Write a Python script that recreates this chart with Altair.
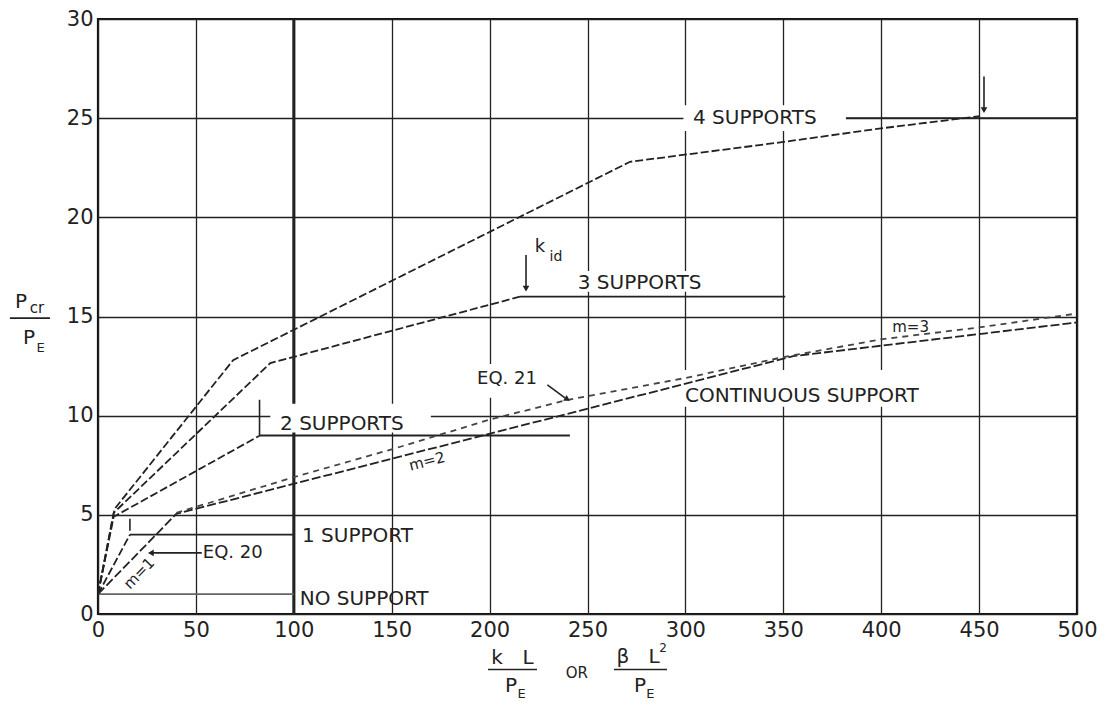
import altair as alt
import pandas as pd

# ---------------- data ----------------
x_ticks = [0, 50, 100, 150, 200, 250, 300, 350, 400, 450, 500]
y_ticks = [0, 5, 10, 15, 20, 25, 30]

no_support_x = [0, 100]
no_support_y = [1, 1]

sup1_x = [0, 16.3]
sup1_y = [1, 4.0]
sup1_plateau_x = [16.3, 100]
sup1_plateau_y = [4.0, 4.0]

sup2_x = [0, 8, 82.7]
sup2_y = [1, 4.9, 9.0]
sup2_plateau_x = [82.7, 241]
sup2_plateau_y = [9.0, 9.0]

sup3_x = [0, 8, 88, 215.5]
sup3_y = [1, 5.1, 12.65, 16.0]
sup3_plateau_x = [215.5, 351]
sup3_plateau_y = [16.0, 16.0]

sup4_x = [0, 8.5, 69, 271.7, 350, 401, 450.5]
sup4_y = [1, 5.3, 12.8, 22.8, 23.8, 24.5, 25.1]
sup4_plateau_x = [382, 500]
sup4_plateau_y = [25.0, 25.0]

cont_x = [0, 40, 355, 500]
cont_y = [1, 5.05, 13.0, 14.7]

eq21_x = [40, 100, 150, 200, 240, 300, 350, 400, 450, 500]
eq21_y = [5.1, 6.9, 8.3, 9.8, 10.8, 11.9, 12.95, 13.85, 14.45, 15.15]

series = [
    ("no support", no_support_x, no_support_y, "light"),
    ("1 support", sup1_x, sup1_y, "dash"),
    ("1 support plateau", sup1_plateau_x, sup1_plateau_y, "solid"),
    ("2 supports", sup2_x, sup2_y, "dash"),
    ("2 supports plateau", sup2_plateau_x, sup2_plateau_y, "solid"),
    ("3 supports", sup3_x, sup3_y, "dash"),
    ("3 supports plateau", sup3_plateau_x, sup3_plateau_y, "solid"),
    ("4 supports", sup4_x, sup4_y, "dash"),
    ("4 supports plateau", sup4_plateau_x, sup4_plateau_y, "solid"),
    ("continuous", cont_x, cont_y, "cont"),
    ("eq21", eq21_x, eq21_y, "eq21"),
]
rows = []
for name, xs, ys, style in series:
    for i, (xv, yv) in enumerate(zip(xs, ys)):
        rows.append({"series": name, "x": xv, "y": yv, "order": i, "style": style})
lines_df = pd.DataFrame(rows)

# annotation geometry (data units)
gap_x1 = [299, 243, 88, 193, 296]
gap_x2 = [382, 324, 170, 222, 432]
gap_y1 = [24.35, 16.25, 9.15, 10.9, 10.45]
gap_y2 = [25.65, 17.3, 10.6, 12.6, 12.3]
gaps_df = pd.DataFrame({"x": gap_x1, "x2": gap_x2, "y": gap_y1, "y2": gap_y2})

seg_x1 = [218.6, 452.5, 82.5, 16.3, 53.0, 229.5, -45.0, 199.2, 263.5]
seg_x2 = [218.6, 452.5, 82.5, 16.3, 27.0, 238.5, -24.5, 224.2, 290.6]
seg_y1 = [18.1, 27.1, 10.8, 4.8, 3.08, 11.55, 14.92, -2.8, -2.8]
seg_y2 = [16.4, 25.4, 9.0, 4.2, 3.08, 10.9, 14.92, -2.8, -2.8]
segs_df = pd.DataFrame({"x": seg_x1, "x2": seg_x2, "y": seg_y1, "y2": seg_y2})

head_x = [218.6, 452.5, 27.5, 239.3]
head_y = [16.45, 25.45, 3.08, 10.85]
head_angle = [180, 180, 270, 122]
heads_df = pd.DataFrame({"x": head_x, "y": head_y, "angle": head_angle})

lab_text = ["4 SUPPORTS", "3  SUPPORTS", "2 SUPPORTS", "CONTINUOUS  SUPPORT",
            "EQ. 21", "EQ. 20", "1  SUPPORT", "NO  SUPPORT"]
lab_x = [303.9, 245.0, 93.0, 299.8, 193.6, 53.5, 104.2, 103.0]
lab_y = [25.0, 16.7, 9.6, 10.97, 11.85, 3.08, 3.95, 0.75]
lab_size = [20, 20, 20, 20, 18, 18, 20, 20]
labels_df = pd.DataFrame({"text": lab_text, "x": lab_x, "y": lab_y, "size": lab_size})

sm_text = ["m=3", "m=2", "m=1", "k", "id",
           "P", "cr", "P", "E",
           "k", "L", "P", "E", "OR", "β", "L", "2", "P", "E"]
sm_x = [415, 168, 21, 225.7, 233.9,
        -39.3, -31.2, -35.2, -29.3,
        203.8, 219.6, 211.0, 216.3, 244.6, 268.1, 284.0, 288.6, 276.8, 282.1]
sm_y = [14.45, 7.7, 2.05, 18.5, 18.0,
        15.72, 15.42, 13.94, 13.42,
        -2.2, -2.2, -3.62, -4.02, -2.98, -2.15, -2.15, -1.72, -3.62, -4.02]
sm_size = [15, 15, 15, 18, 14,
           20, 15, 20, 13,
           20, 20, 20, 13, 15, 20, 20, 12, 20, 13]
sm_angle = [0, 345.6, 314, 0, 0,
            0, 0, 0, 0,
            0, 0, 0, 0, 0, 0, 0, 0, 0, 0]
small_df = pd.DataFrame({"text": sm_text, "x": sm_x, "y": sm_y, "size": sm_size, "angle": sm_angle})

thick_df = pd.DataFrame({"x": [100], "y": [0], "y2": [30]})

# ---------------- chart ----------------
FONT = "DejaVu Sans"
INK = "#222222"

xscale = alt.Scale(domain=[0, 500], nice=False, zero=False)
yscale = alt.Scale(domain=[0, 30], nice=False, zero=False)
xaxis = alt.Axis(values=x_ticks, grid=True, gridColor=INK, gridWidth=1.3, domain=False,
                 ticks=False, labelFontSize=21, labelFont=FONT, labelColor=INK,
                 labelPadding=5, labelFlush=False, title=None)
yaxis = alt.Axis(values=y_ticks, grid=True, gridColor=INK, gridWidth=1.3, domain=False,
                 ticks=False, labelFontSize=21, labelFont=FONT, labelColor=INK,
                 labelPadding=5, labelFlush=False, title=None)


def X(f="x"):
    return alt.X(f"{f}:Q", scale=xscale, axis=xaxis)


def Y(f="y"):
    return alt.Y(f"{f}:Q", scale=yscale, axis=yaxis)


thick = alt.Chart(thick_df).mark_rule(color=INK, strokeWidth=3).encode(
    x=X(), y=Y(), y2="y2:Q")

gaps = alt.Chart(gaps_df).mark_rect(color="white").encode(
    x=X(), x2="x2:Q", y=Y(), y2="y2:Q")

styles = ["dash", "solid", "cont", "eq21", "light"]
lines = alt.Chart(lines_df).mark_line().encode(
    x=X(), y=Y(), detail="series:N", order="order:Q",
    color=alt.Color("style:N", scale=alt.Scale(domain=styles,
                    range=[INK, INK, INK, "#444444", "#666666"]), legend=None),
    strokeDash=alt.StrokeDash("style:N", scale=alt.Scale(domain=styles,
                              range=[[8, 3], [1, 0], [9, 3], [6, 5], [1, 0]]), legend=None),
    strokeWidth=alt.StrokeWidth("style:N", scale=alt.Scale(domain=styles,
                                range=[1.8, 1.8, 1.8, 1.5, 1.5]), legend=None),
)

segs = alt.Chart(segs_df).mark_rule(color=INK, strokeWidth=1.6).encode(
    x=X(), x2="x2:Q", y=Y(), y2="y2:Q")

heads = alt.Chart(heads_df).mark_point(shape="triangle", filled=True, color=INK,
                                       size=45, opacity=1).encode(
    x=X(), y=Y(), angle=alt.Angle("angle:Q", scale=None))

labels = alt.Chart(labels_df).mark_text(align="left", baseline="middle", font=FONT,
                                        color=INK).encode(
    x=X(), y=Y(), text="text:N", size=alt.Size("size:Q", scale=None))

small = alt.Chart(small_df).mark_text(align="center", baseline="middle", font=FONT,
                                      color=INK).encode(
    x=X(), y=Y(), text="text:N", size=alt.Size("size:Q", scale=None),
    angle=alt.Angle("angle:Q", scale=None))

chart = alt.layer(thick, gaps, lines, segs, heads, labels, small).properties(
    width=979, height=595,
    autosize=alt.AutoSizeParams(type="none"),
    padding={"left": 90, "top": 11, "right": 28, "bottom": 88},
    background="white",
).configure_view(stroke="#111111", strokeWidth=2.2)

chart.save("out.html", embed_options={"renderer": "svg", "actions": False})
